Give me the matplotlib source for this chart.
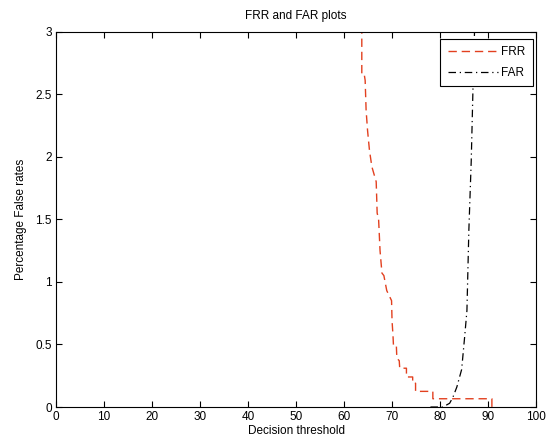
import matplotlib
matplotlib.use("Agg")
import matplotlib.pyplot as plt

plt.rcParams["font.family"] = ["Liberation Sans", "DejaVu Sans"]
plt.rcParams["font.size"] = 8

# FRR curve (corner points of the staircase)
frr_thr = [63.7, 63.7, 64.2, 64.4, 64.6, 64.9, 65.3, 65.8, 66.4, 66.7,
           66.9, 67.2, 67.5, 67.9, 68.3, 68.9, 69.4, 69.9, 70.0, 70.2,
           70.3, 70.9, 71.0, 71.5, 71.6, 73.0, 73.0, 74.3, 74.3, 74.9,
           74.9, 78.5, 78.5, 90.8, 90.8, 91.0]
frr_pct = [3.3, 2.66, 2.66, 2.61, 2.37, 2.21, 2.05, 1.92, 1.84, 1.80,
           1.55, 1.50, 1.25, 1.07, 1.05, 0.93, 0.89, 0.85, 0.69, 0.57,
           0.49, 0.49, 0.39, 0.37, 0.31, 0.31, 0.24, 0.24, 0.19, 0.19,
           0.125, 0.125, 0.066, 0.066, 0.0, 0.0]

far_thr = [78.0, 80.6, 82.0, 82.7, 83.5, 84.5, 85.1, 85.6, 86.0, 86.5, 86.9, 87.4]
far_pct = [0.0, 0.0, 0.03, 0.08, 0.16, 0.30, 0.55, 0.77, 1.41, 1.97, 2.61, 3.3]

fig = plt.figure(figsize=(5.48, 4.48), dpi=100)
ax = fig.add_axes([0.1022, 0.0915, 0.876, 0.838])

ax.plot(frr_thr, frr_pct, "--", color="#e2401f", lw=1.0,
        dashes=(6, 3.5), label="FRR")
ax.plot(far_thr, far_pct, "-.", color="black", lw=0.9,
        dashes=(6, 3, 1, 3), label="FAR")

ax.set_xlim(0, 100)
ax.set_ylim(0, 3)
ax.set_xticks(range(0, 101, 10))
ax.set_yticks([0, 0.5, 1, 1.5, 2, 2.5, 3])
ax.set_yticklabels(["0", "0.5", "1", "1.5", "2", "2.5", "3"])
ax.tick_params(direction="in", top=True, right=True, length=4, width=0.8,
               labelsize=8.5, pad=3)
for s in ax.spines.values():
    s.set_linewidth(0.8)

ax.set_title("FRR and FAR plots", fontsize=8.5, pad=9)
ax.set_xlabel("Decision threshold", fontsize=8.5, labelpad=1)
ax.set_ylabel("Percentage False rates", fontsize=8.5, labelpad=6)

leg = ax.legend(loc="upper right", bbox_to_anchor=(0.994, 0.981),
                borderaxespad=0, fontsize=8.5, fancybox=False,
                framealpha=1, edgecolor="black",
                handlelength=4.2, handletextpad=0.3, borderpad=0.65,
                labelspacing=0.7)
leg.get_frame().set_linewidth(0.8)

fig.savefig("out.png", dpi=100)
